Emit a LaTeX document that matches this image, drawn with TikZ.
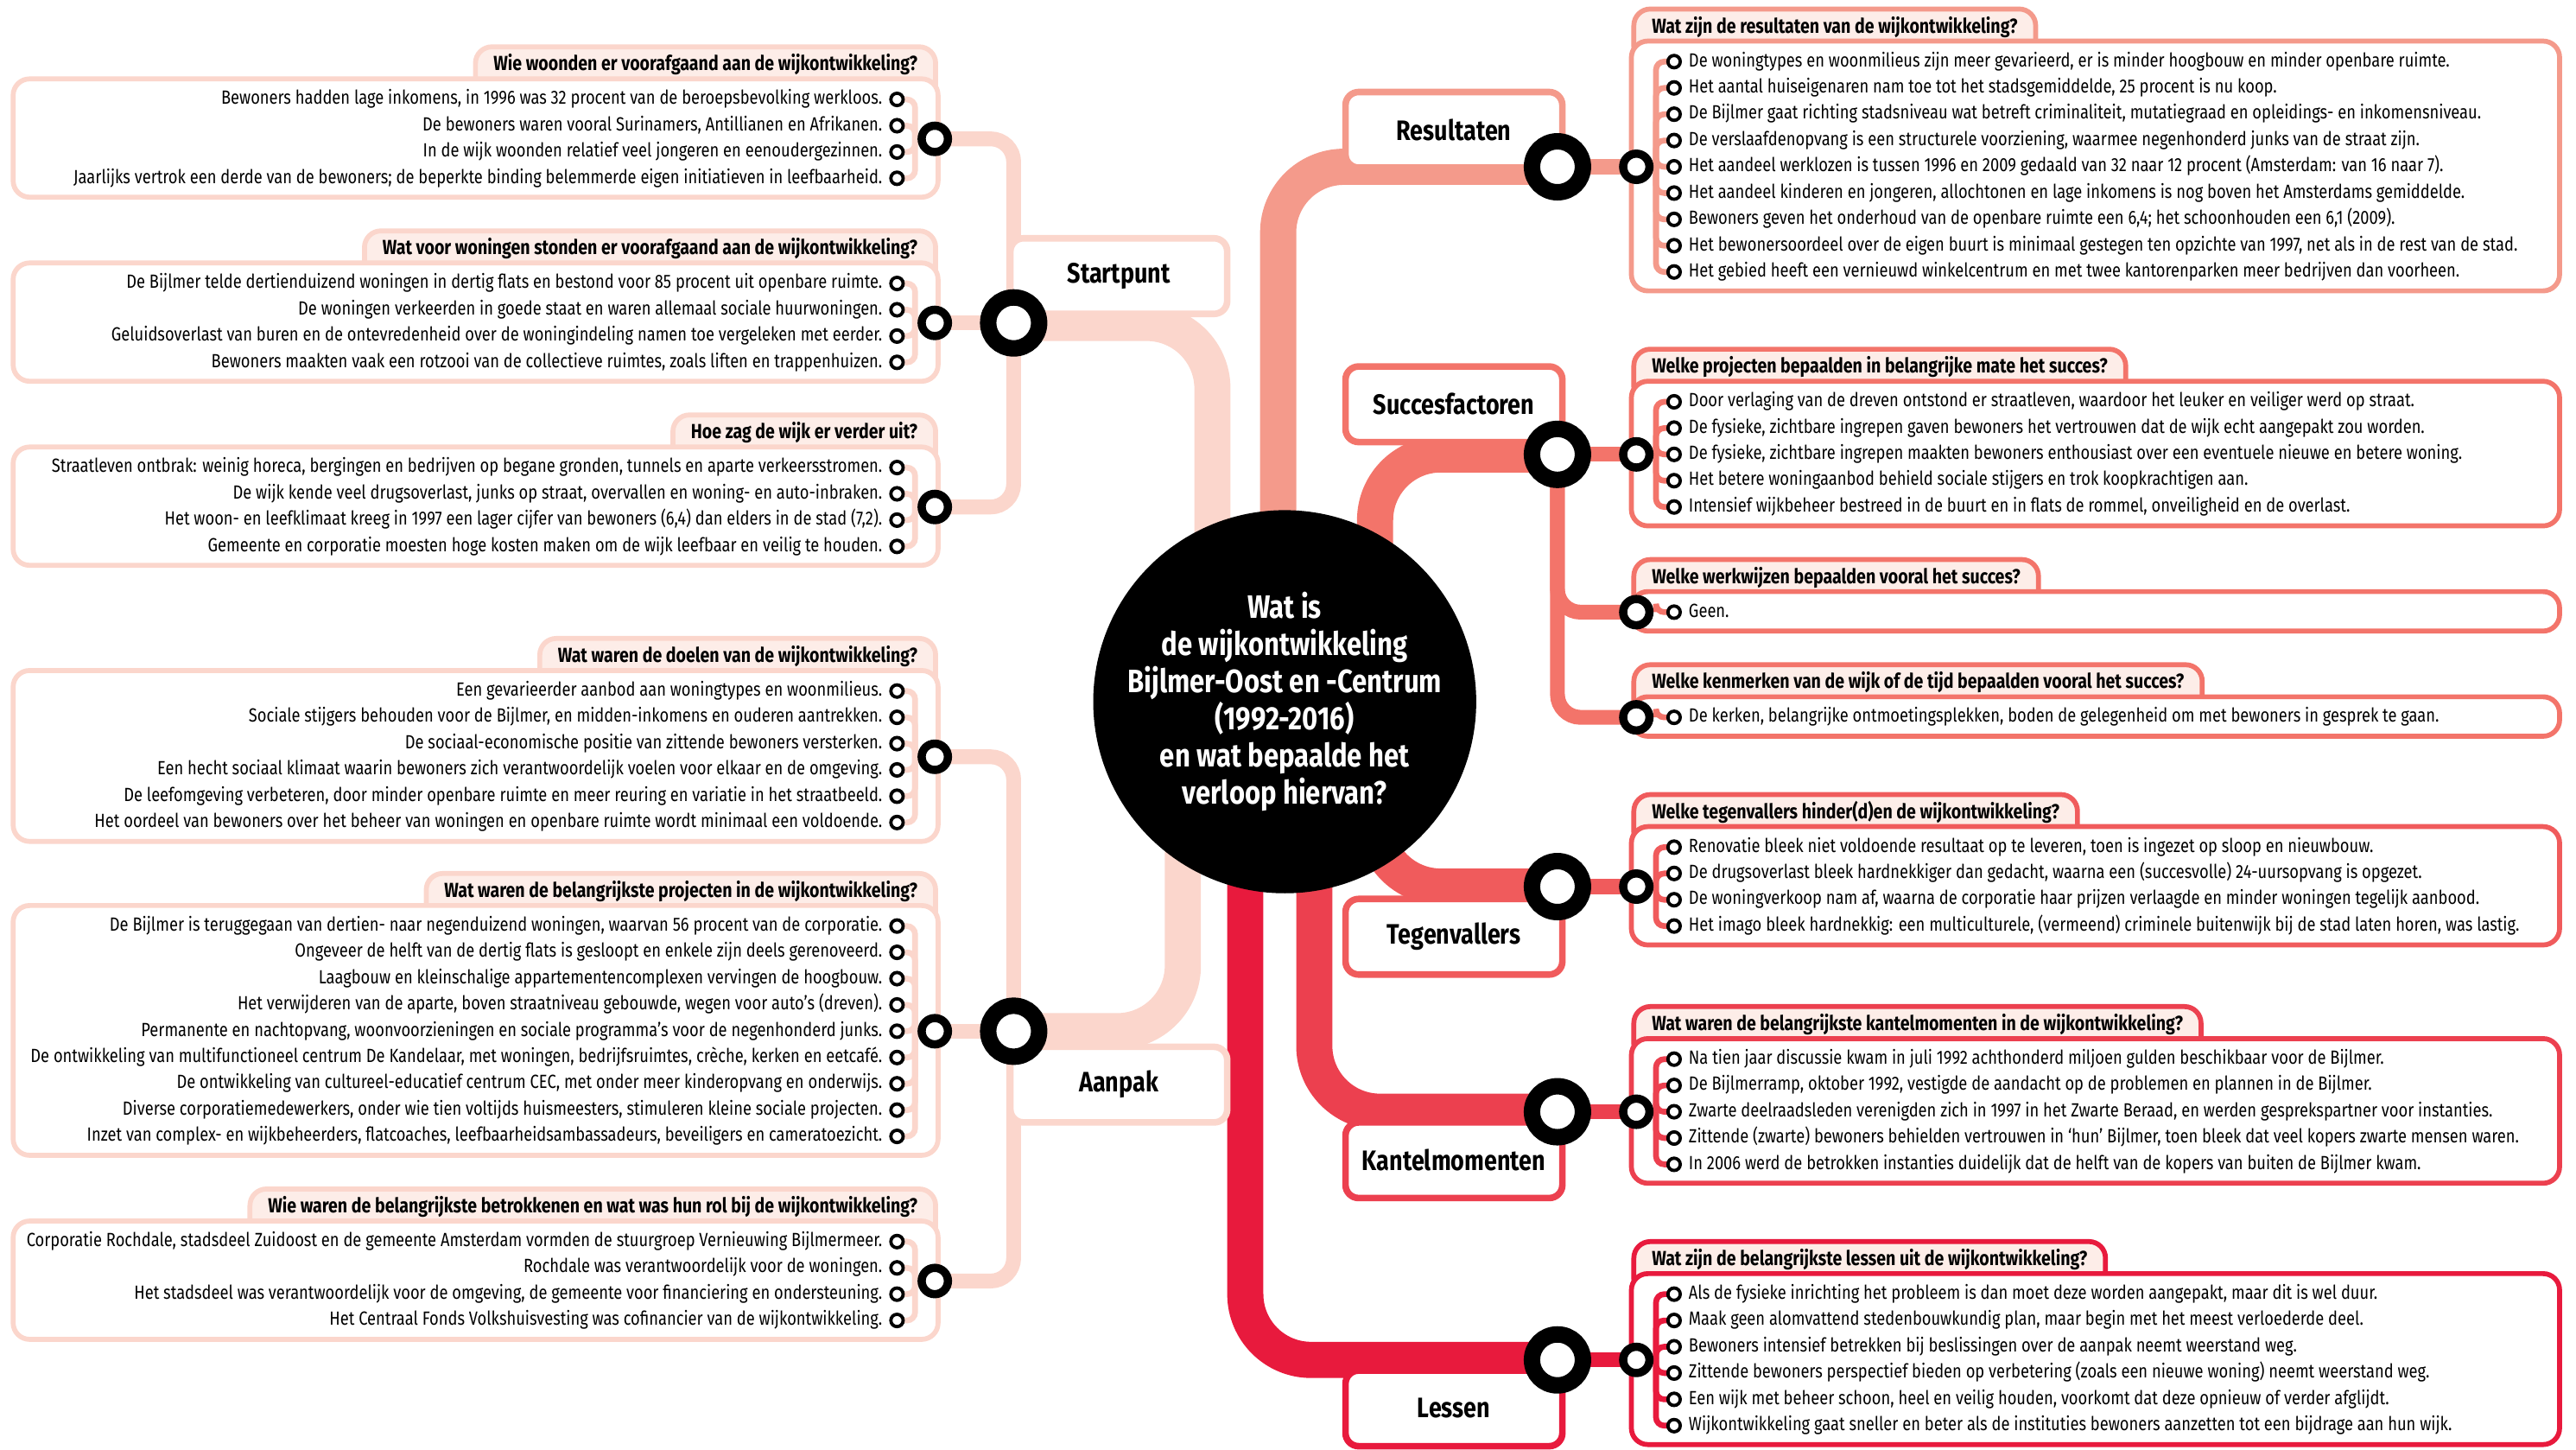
\documentclass[tikz,border=0pt]{standalone}
\usepackage{fontspec}
\setmainfont{Fira Sans}[FakeStretch=0.83]
\usepackage{tikz}
\usetikzlibrary{positioning,backgrounds}

\definecolor{startclr}{HTML}{FBD6CC}
\definecolor{tabclr}{HTML}{FDEDE8}
\definecolor{resclr}{HTML}{F49A8B}
\definecolor{sucsclr}{HTML}{F3746A}
\definecolor{tegclr}{HTML}{F05B5C}
\definecolor{kanclr}{HTML}{EC404F}
\definecolor{lesclr}{HTML}{E81A3D}

\tikzstyle{band}=[line width=22pt,rounded corners=40pt]
\tikzstyle{branch}=[line width=9pt,rounded corners=14pt]
\tikzstyle{link}=[line width=3.5pt,rounded corners=5pt]
\tikzstyle{smallring}=[circle,draw=black,fill=white,line width=2pt,minimum size=7.5pt,inner sep=0pt]
\tikzstyle{midring}=[circle,draw=black,fill=white,line width=5pt,minimum size=16pt,inner sep=0pt]
\tikzstyle{bigring}=[circle,draw=black,fill=white,line width=10pt,minimum size=31pt,inner sep=0pt]
\tikzstyle{hub}=[circle,fill=black,minimum size=226pt,inner sep=0pt,text=white,align=center,font=\bfseries\fontsize{19.7}{22.6}\selectfont]
\tikzstyle{labelbox}=[draw,fill=white,line width=4pt,rounded corners=8pt,minimum width=132pt,minimum height=46pt,font=\bfseries\fontsize{17.1}{19}\selectfont]
\tikzstyle{panelbody}=[fill=white,line width=3pt,rounded corners=10pt]
\tikzstyle{paneltab}=[fill=tabclr,line width=3pt,rounded corners=10pt,inner xsep=11pt,inner ysep=6pt,text height=8.5pt,text depth=12.5pt,font=\bfseries\fontsize{12.4}{14}\selectfont]
\tikzstyle{entry}=[font=\fontsize{11.6}{13}\selectfont,inner sep=0pt,text height=8.5pt,text depth=2.5pt]

% panel on the left: id, body top, number of items, title, items
\newcommand{\leftpanel}[5]{%
  \pgfmathsetmacro{\pbot}{#2+24+16*(#3-1)}%
  \pgfmathsetmacro{\pmid}{#2+12.5+8*(#3-1)}%
  \node[paneltab,draw=startclr,anchor=north east] (#1q) at (571,#2-21) {#4};
  \draw[panelbody,draw=startclr] (8,#2) rectangle (571,\pbot);
  \coordinate (#1b) at (557,\pmid);
  \foreach \txt [count=\i] in {#5}{%
    \pgfmathsetmacro{\py}{#2+12.5+16*(\i-1)}%
    \coordinate (#1c\i) at (546,\py);
    \draw[link,draw=startclr] (#1c\i) -| (#1b);
    \node[smallring] (#1s\i) at (#1c\i) {};
    \node[entry,left=4pt of #1s\i] (#1t\i) {\txt};
  }
  \node[midring] (#1m) at (569,\pmid) {};
}

% panel on the right: id, body top, number of items, colour, title, items
\newcommand{\rightpanel}[6]{%
  \pgfmathsetmacro{\pbot}{#2+24+16*(#3-1)}%
  \pgfmathsetmacro{\pmid}{#2+12.5+8*(#3-1)}%
  \node[paneltab,draw=#4,anchor=north west] (#1q) at (993,#2-21) {#5};
  \draw[panelbody,draw=#4] (993,#2) rectangle (1558,\pbot);
  \coordinate (#1b) at (1008,\pmid);
  \foreach \txt [count=\i] in {#6}{%
    \pgfmathsetmacro{\py}{#2+12.5+16*(\i-1)}%
    \coordinate (#1c\i) at (1019,\py);
    \draw[link,draw=#4] (#1c\i) -| (#1b);
    \node[smallring] (#1s\i) at (#1c\i) {};
    \node[entry,right=4pt of #1s\i] (#1t\i) {\txt};
  }
  \node[midring] (#1m) at (996,\pmid) {};
}

\begin{document}
\begin{tikzpicture}[x=1pt,y=-1pt]
\useasboundingbox (0,0) rectangle (1568,882);

% centre
\node[hub] (hub) at (782,427) {Wat is\\de wijkontwikkeling\\Bijlmer-Oost en -Centrum\\(1992-2016)\\en wat bepaalde het\\verloop hiervan?};

% main branches
\node[labelbox,draw=startclr] (startlabel) at (681,168) {Startpunt};
\node[bigring] (startring) at (617,196.5) {};
\node[labelbox,draw=startclr] (aanlabel) at (681,660) {Aanpak};
\node[bigring] (aanring) at (617,627.5) {};
\node[labelbox,draw=resclr] (reslabel) at (885,79) {Resultaten};
\node[bigring] (resring) at (948,101.5) {};
\node[labelbox,draw=sucsclr] (suclabel) at (885,246) {Succesfactoren};
\node[bigring] (sucring) at (948,276.5) {};
\node[labelbox,draw=tegclr] (teglabel) at (885,570) {Tegenvallers};
\node[bigring] (tegring) at (948,539.5) {};
\node[labelbox,draw=kanclr] (kanlabel) at (885,706) {Kantelmomenten};
\node[bigring] (kanring) at (948,676.5) {};
\node[labelbox,draw=lesclr] (leslabel) at (885,857) {Lessen};
\node[bigring] (lesring) at (948,827.5) {};

% Startpunt
\leftpanel{wie}{48}{4}{Wie woonden er voorafgaand aan de wijkontwikkeling?}{%
  {Bewoners hadden lage inkomens, in 1996 was 32 procent van de beroepsbevolking werkloos.},
  {De bewoners waren vooral Surinamers, Antillianen en Afrikanen.},
  {In de wijk woonden relatief veel jongeren en eenoudergezinnen.},
  {Jaarlijks vertrok een derde van de bewoners; de beperkte binding belemmerde eigen initiatieven in leefbaarheid.}}
\leftpanel{woon}{160}{4}{Wat voor woningen stonden er voorafgaand aan de wijkontwikkeling?}{%
  {De Bijlmer telde dertienduizend woningen in dertig flats en bestond voor 85 procent uit openbare ruimte.},
  {De woningen verkeerden in goede staat en waren allemaal sociale huurwoningen.},
  {Geluidsoverlast van buren en de ontevredenheid over de woningindeling namen toe vergeleken met eerder.},
  {Bewoners maakten vaak een rotzooi van de collectieve ruimtes, zoals liften en trappenhuizen.}}
\leftpanel{zag}{272}{4}{Hoe zag de wijk er verder uit?}{%
  {Straatleven ontbrak: weinig horeca, bergingen en bedrijven op begane gronden, tunnels en aparte verkeersstromen.},
  {De wijk kende veel drugsoverlast, junks op straat, overvallen en woning- en auto-inbraken.},
  {Het woon- en leefklimaat kreeg in 1997 een lager cijfer van bewoners (6,4) dan elders in de stad (7,2).},
  {Gemeente en corporatie moesten hoge kosten maken om de wijk leefbaar en veilig te houden.}}

% Aanpak
\leftpanel{doel}{408}{6}{Wat waren de doelen van de wijkontwikkeling?}{%
  {Een gevarieerder aanbod aan woningtypes en woonmilieus.},
  {Sociale stijgers behouden voor de Bijlmer, en midden-inkomens en ouderen aantrekken.},
  {De sociaal-economische positie van zittende bewoners versterken.},
  {Een hecht sociaal klimaat waarin bewoners zich verantwoordelijk voelen voor elkaar en de omgeving.},
  {De leefomgeving verbeteren, door minder openbare ruimte en meer reuring en variatie in het straatbeeld.},
  {Het oordeel van bewoners over het beheer van woningen en openbare ruimte wordt minimaal een voldoende.}}
\leftpanel{proj}{551}{9}{Wat waren de belangrijkste projecten in de wijkontwikkeling?}{%
  {De Bijlmer is teruggegaan van dertien- naar negenduizend woningen, waarvan 56 procent van de corporatie.},
  {Ongeveer de helft van de dertig flats is gesloopt en enkele zijn deels gerenoveerd.},
  {Laagbouw en kleinschalige appartementencomplexen vervingen de hoogbouw.},
  {Het verwijderen van de aparte, boven straatniveau gebouwde, wegen voor auto’s (dreven).},
  {Permanente en nachtopvang, woonvoorzieningen en sociale programma’s voor de negenhonderd junks.},
  {De ontwikkeling van multifunctioneel centrum De Kandelaar, met woningen, bedrijfsruimtes, crèche, kerken en eetcafé.},
  {De ontwikkeling van cultureel-educatief centrum CEC, met onder meer kinderopvang en onderwijs.},
  {Diverse corporatiemedewerkers, onder wie tien voltijds huismeesters, stimuleren kleine sociale projecten.},
  {Inzet van complex- en wijkbeheerders, flatcoaches, leefbaarheidsambassadeurs, beveiligers en cameratoezicht.}}
\leftpanel{rol}{743}{4}{Wie waren de belangrijkste betrokkenen en wat was hun rol bij de wijkontwikkeling?}{%
  {Corporatie Rochdale, stadsdeel Zuidoost en de gemeente Amsterdam vormden de stuurgroep Vernieuwing Bijlmermeer.},
  {Rochdale was verantwoordelijk voor de woningen.},
  {Het stadsdeel was verantwoordelijk voor de omgeving, de gemeente voor financiering en ondersteuning.},
  {Het Centraal Fonds Volkshuisvesting was cofinancier van de wijkontwikkeling.}}

% Resultaten
\rightpanel{res}{25}{9}{resclr}{Wat zijn de resultaten van de wijkontwikkeling?}{%
  {De woningtypes en woonmilieus zijn meer gevarieerd, er is minder hoogbouw en minder openbare ruimte.},
  {Het aantal huiseigenaren nam toe tot het stadsgemiddelde, 25 procent is nu koop.},
  {De Bijlmer gaat richting stadsniveau wat betreft criminaliteit, mutatiegraad en opleidings- en inkomensniveau.},
  {De verslaafdenopvang is een structurele voorziening, waarmee negenhonderd junks van de straat zijn.},
  {Het aandeel werklozen is tussen 1996 en 2009 gedaald van 32 naar 12 procent (Amsterdam: van 16 naar 7).},
  {Het aandeel kinderen en jongeren, allochtonen en lage inkomens is nog boven het Amsterdams gemiddelde.},
  {Bewoners geven het onderhoud van de openbare ruimte een 6,4; het schoonhouden een 6,1 (2009).},
  {Het bewonersoordeel over de eigen buurt is minimaal gestegen ten opzichte van 1997, net als in de rest van de stad.},
  {Het gebied heeft een vernieuwd winkelcentrum en met twee kantorenparken meer bedrijven dan voorheen.}}

% Succesfactoren
\rightpanel{sproj}{232}{5}{sucsclr}{Welke projecten bepaalden in belangrijke mate het succes?}{%
  {Door verlaging van de dreven ontstond er straatleven, waardoor het leuker en veiliger werd op straat.},
  {De fysieke, zichtbare ingrepen gaven bewoners het vertrouwen dat de wijk echt aangepakt zou worden.},
  {De fysieke, zichtbare ingrepen maakten bewoners enthousiast over een eventuele nieuwe en betere woning.},
  {Het betere woningaanbod behield sociale stijgers en trok koopkrachtigen aan.},
  {Intensief wijkbeheer bestreed in de buurt en in flats de rommel, onveiligheid en de overlast.}}
\rightpanel{werk}{360}{1}{sucsclr}{Welke werkwijzen bepaalden vooral het succes?}{{Geen.}}
\rightpanel{kenm}{424}{1}{sucsclr}{Welke kenmerken van de wijk of de tijd bepaalden vooral het succes?}{%
  {De kerken, belangrijke ontmoetingsplekken, boden de gelegenheid om met bewoners in gesprek te gaan.}}

% Tegenvallers
\rightpanel{teg}{503}{4}{tegclr}{Welke tegenvallers hinder(d)en de wijkontwikkeling?}{%
  {Renovatie bleek niet voldoende resultaat op te leveren, toen is ingezet op sloop en nieuwbouw.},
  {De drugsoverlast bleek hardnekkiger dan gedacht, waarna een (succesvolle) 24-uursopvang is opgezet.},
  {De woningverkoop nam af, waarna de corporatie haar prijzen verlaagde en minder woningen tegelijk aanbood.},
  {Het imago bleek hardnekkig: een multiculturele, (vermeend) criminele buitenwijk bij de stad laten horen, was lastig.}}

% Kantelmomenten
\rightpanel{kan}{632}{5}{kanclr}{Wat waren de belangrijkste kantelmomenten in de wijkontwikkeling?}{%
  {Na tien jaar discussie kwam in juli 1992 achthonderd miljoen gulden beschikbaar voor de Bijlmer.},
  {De Bijlmerramp, oktober 1992, vestigde de aandacht op de problemen en plannen in de Bijlmer.},
  {Zwarte deelraadsleden verenigden zich in 1997 in het Zwarte Beraad, en werden gesprekspartner voor instanties.},
  {Zittende (zwarte) bewoners behielden vertrouwen in ‘hun’ Bijlmer, toen bleek dat veel kopers zwarte mensen waren.},
  {In 2006 werd de betrokken instanties duidelijk dat de helft van de kopers van buiten de Bijlmer kwam.}}

% Lessen
\rightpanel{les}{775}{6}{lesclr}{Wat zijn de belangrijkste lessen uit de wijkontwikkeling?}{%
  {Als de fysieke inrichting het probleem is dan moet deze worden aangepakt, maar dit is wel duur.},
  {Maak geen alomvattend stedenbouwkundig plan, maar begin met het meest verloederde deel.},
  {Bewoners intensief betrekken bij beslissingen over de aanpak neemt weerstand weg.},
  {Zittende bewoners perspectief bieden op verbetering (zoals een nieuwe woning) neemt weerstand weg.},
  {Een wijk met beheer schoon, heel en veilig houden, voorkomt dat deze opnieuw of verder afglijdt.},
  {Wijkontwikkeling gaat sneller en beter als de instituties bewoners aanzetten tot een bijdrage aan hun wijk.}}

% bands and branches behind everything
\begin{pgfonlayer}{background}
  \draw[band,draw=startclr] (startring.center) -| ([xshift=-44pt]hub.center);
  \draw[band,draw=startclr] (aanring.center) -| ([xshift=-62pt]hub.center);
  \draw[band,draw=resclr] (resring.center) -| ([xshift=-4pt]hub.center);
  \draw[band,draw=sucsclr] (sucring.center) -| ([xshift=55pt]hub.center);
  \draw[band,draw=tegclr] (tegring.center) -| ([xshift=55pt]hub.center);
  \draw[band,draw=kanclr] (kanring.center) -| ([xshift=18pt]hub.center);
  \draw[band,draw=lesclr] (lesring.center) -| ([xshift=-24pt]hub.center);
  \draw[branch,draw=startclr] (wiem.center) -| (startring.center);
  \draw[branch,draw=startclr] (woonm.center) -- (startring.center);
  \draw[branch,draw=startclr] (zagm.center) -| (startring.center);
  \draw[branch,draw=startclr] (doelm.center) -| (aanring.center);
  \draw[branch,draw=startclr] (projm.center) -- (aanring.center);
  \draw[branch,draw=startclr] (rolm.center) -| (aanring.center);
  \draw[branch,draw=resclr] (resm.center) -- (resring.center);
  \draw[branch,draw=sucsclr] (sprojm.center) -- (sucring.center);
  \draw[branch,draw=sucsclr] (sucring.center) |- (werkm.center);
  \draw[branch,draw=sucsclr] (sucring.center) |- (kenmm.center);
  \draw[branch,draw=tegclr] (tegm.center) -- (tegring.center);
  \draw[branch,draw=kanclr] (kanm.center) -- (kanring.center);
  \draw[branch,draw=lesclr] (lesm.center) -- (lesring.center);
\end{pgfonlayer}
\end{tikzpicture}
\end{document}
